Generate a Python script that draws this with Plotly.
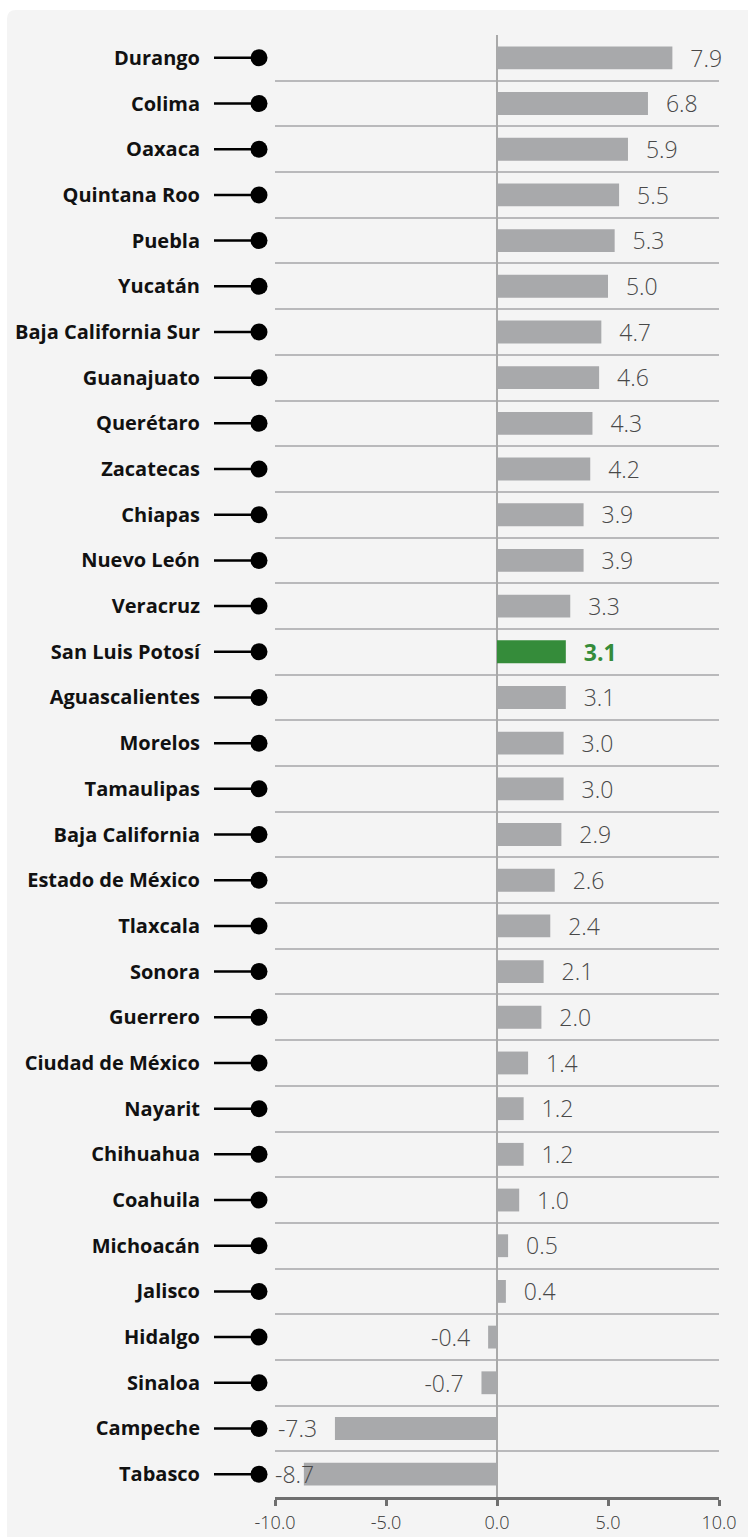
import plotly.graph_objects as go

states = ["Durango", "Colima", "Oaxaca", "Quintana Roo", "Puebla", "Yucatán",
          "Baja California Sur", "Guanajuato", "Querétaro", "Zacatecas", "Chiapas",
          "Nuevo León", "Veracruz", "San Luis Potosí", "Aguascalientes", "Morelos",
          "Tamaulipas", "Baja California", "Estado de México", "Tlaxcala", "Sonora",
          "Guerrero", "Ciudad de México", "Nayarit", "Chihuahua", "Coahuila",
          "Michoacán", "Jalisco", "Hidalgo", "Sinaloa", "Campeche", "Tabasco"]
values = [7.9, 6.8, 5.9, 5.5, 5.3, 5.0, 4.7, 4.6, 4.3, 4.2, 3.9, 3.9, 3.3, 3.1,
          3.1, 3.0, 3.0, 2.9, 2.6, 2.4, 2.1, 2.0, 1.4, 1.2, 1.2, 1.0, 0.5, 0.4,
          -0.4, -0.7, -7.3, -8.7]
highlight = "San Luis Potosí"
x_ticks = [-10, -5, 0, 5, 10]
x_ticktext = ["-10.0", "-5.0", "0.0", "5.0", "10.0"]

GRAY = "#a8a9ab"
GREEN = "#358c3a"
W, H = 748, 1537
ML, MR, MT, MB = 0, 29, 35, 40
PW = W - ML - MR
PH = H - MT - MB
N = len(states)
XMIN, XMAX = -10, 10
TEXT_DY_PX = 3  # nudge value labels down to sit centred on the bars

colors = [GREEN if s == highlight else GRAY for s in states]
pad = "\u00a0\u00a0\u00a0"
texts, tx, tpos = [], [], []
for s, v in zip(states, values):
    t = f"{v:.1f}"
    if s == highlight:
        t = f"<b>{t}</b>"
    if v >= 0:
        texts.append(pad + t); tx.append(v); tpos.append("middle right")
    elif v > -8:
        texts.append(t + pad); tx.append(v); tpos.append("middle left")
    else:
        # label would overflow the axis: it starts at the axis edge instead
        texts.append(t); tx.append(XMIN); tpos.append("middle right")
text_colors = [GREEN if s == highlight else "#484848" for s in states]

fig = go.Figure()
fig.add_trace(go.Bar(
    x=values, y=states, orientation="h", marker=dict(color=colors, line=dict(width=0)),
    xaxis="x", yaxis="y", hoverinfo="skip",
))
fig.add_trace(go.Scatter(
    x=tx, y=states, mode="text", text=texts, textposition=tpos, cliponaxis=False,
    textfont=dict(family="Open Sans", size=23, color=text_colors, weight=300),
    xaxis="x", yaxis="y3", hoverinfo="skip", showlegend=False,
))

# lollipop markers at the left of each label row
stem_x = []
stem_y = []
for s in states:
    stem_x += [9, 54, None]
    stem_y += [s, s, None]
fig.add_trace(go.Scatter(
    x=stem_x, y=stem_y, mode="lines", line=dict(color="black", width=2.5),
    xaxis="x2", yaxis="y2", hoverinfo="skip", showlegend=False,
))
fig.add_trace(go.Scatter(
    x=[54] * N, y=states, mode="markers",
    marker=dict(color="black", size=17), cliponaxis=False,
    xaxis="x2", yaxis="y2", hoverinfo="skip", showlegend=False,
))

x0 = 275 / PW
x2a, x2b = 205 / PW, 270 / PW
# background panel with rounded top-left corner
bx0 = 7 / PW
by1 = 1 + (MT - 10) / PH
rx, ry = 9 / PW, 9 / PH
path = (f"M {bx0},-0.2 L {bx0},{by1 - ry} Q {bx0},{by1} {bx0 + rx},{by1} "
        f"L 1.2,{by1} L 1.2,-0.2 Z")

yrange = [N - 0.5, -0.5]
d = TEXT_DY_PX * N / PH
yrange_text = [N - 0.5 - d, -0.5 - d]

fig.update_layout(
    width=W, height=H,
    margin=dict(l=ML, r=MR, t=MT, b=MB, pad=0, autoexpand=False),
    paper_bgcolor="white", plot_bgcolor="rgba(0,0,0,0)",
    showlegend=False, barmode="overlay", bargap=0.5,
    shapes=[dict(type="path", path=path, xref="paper", yref="paper",
                 fillcolor="#f4f4f4", line=dict(width=0), layer="below")],
    xaxis=dict(domain=[x0, 1], range=[XMIN, XMAX], tickvals=x_ticks, ticktext=x_ticktext,
               showgrid=False, zeroline=True,
               zerolinecolor="#a9a9a9", zerolinewidth=2,
               showline=True, linecolor="#6f6f6f", linewidth=3,
               ticks="outside", ticklen=6, tickwidth=3, tickcolor="#6f6f6f",
               ticklabelstandoff=1, automargin=False,
               tickfont=dict(family="Open Sans", size=18, color="#333333", weight=300),
               anchor="y", fixedrange=True),
    xaxis3=dict(overlaying="x", matches="x", range=[XMIN, XMAX], tickvals=x_ticks,
                showticklabels=False, showgrid=False, zeroline=False,
                ticks="inside", ticklen=6, tickwidth=3, tickcolor="#6f6f6f",
                showline=False, anchor="y", domain=[x0, 1], automargin=False),
    xaxis2=dict(domain=[x2a, x2b], range=[0, 65], visible=False, anchor="y2",
                automargin=False),
    yaxis=dict(categoryorder="array", categoryarray=states, range=yrange,
               showticklabels=False, showgrid=True, gridcolor="#b9b9bb", gridwidth=2,
               tickson="boundaries", ticks="", zeroline=False, anchor="x",
               automargin=False),
    yaxis3=dict(categoryorder="array", categoryarray=states, range=yrange_text,
                overlaying="y", visible=False, anchor="x", automargin=False),
    yaxis2=dict(categoryorder="array", categoryarray=states, range=yrange,
                matches="y", showgrid=False, zeroline=False, ticks="", anchor="x2",
                automargin=False,
                tickfont=dict(family="Open Sans", size=20, color="#111111", weight=700),
                ticklabelstandoff=4),
)

fig.write_html("out.html", config={"displayModeBar": False},
               post_script="document.body.style.margin='0';")
